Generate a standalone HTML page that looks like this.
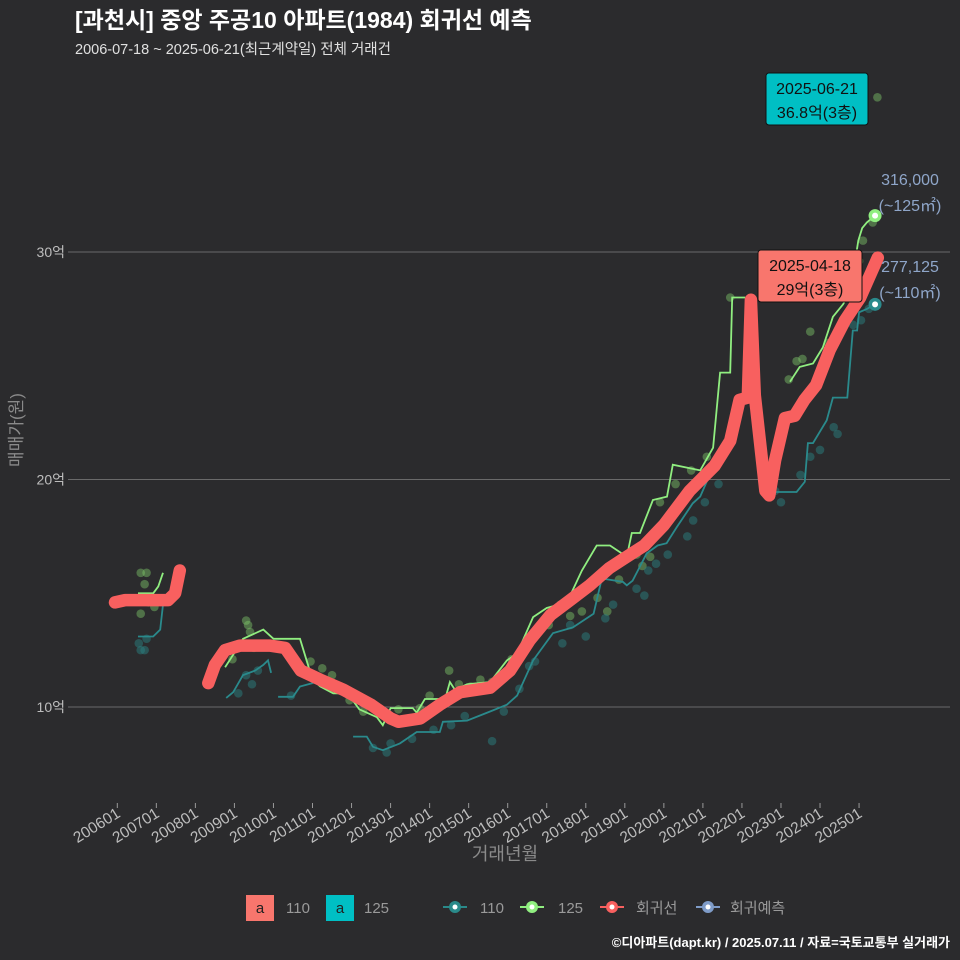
<!DOCTYPE html>
<html><head><meta charset="utf-8">
<style>
html,body{margin:0;padding:0;background:#2b2b2d;}
svg{display:block;font-family:"Liberation Sans","Noto Sans CJK KR",sans-serif;}
</style></head>
<body>
<svg id="chart" width="960" height="960" viewBox="0 0 960 960">
<rect x="0" y="0" width="960" height="960" fill="#2b2b2d"/>
<text x="75" y="28" fill="#ffffff" font-size="23" font-weight="bold">[과천시] 중앙 주공10 아파트(1984) 회귀선 예측</text>
<text x="75" y="54" fill="#e0e0e0" font-size="14.5">2006-07-18 ~ 2025-06-21(최근계약일) 전체 거래건</text>
<g id="grid"></g>
<g id="yaxis"></g>
<g id="xaxis"></g>
<g id="points"></g>
<g id="lines"></g>
<g id="annot"></g>
<text x="22" y="430" fill="#8a8a8a" font-size="17" text-anchor="middle" transform="rotate(-90 22 430)">매매가(원)</text>
<text x="505" y="860" fill="#8a8a8a" font-size="18" text-anchor="middle">거래년월</text>
<g font-size="15" fill="#9a9a9a">
 <g><rect x="246" y="895" width="28" height="26" fill="#f8766d"/><text x="260" y="913" fill="#222" text-anchor="middle">a</text><text x="286" y="913">110</text></g>
 <g><rect x="326" y="895" width="28" height="26" fill="#00bfc4"/><text x="340" y="913" fill="#222" text-anchor="middle">a</text><text x="364" y="913">125</text></g>
 <g><line x1="443" y1="907" x2="467" y2="907" stroke="#2a8a8a" stroke-width="2"/><circle cx="455" cy="907" r="6" fill="#2a8a8a"/><circle cx="455" cy="907" r="2.5" fill="#fff"/><text x="480" y="913">110</text></g>
 <g><line x1="520" y1="907" x2="544" y2="907" stroke="#90ee80" stroke-width="2"/><circle cx="532" cy="907" r="6" fill="#90ee80"/><circle cx="532" cy="907" r="2.5" fill="#fff"/><text x="558" y="913">125</text></g>
 <g><line x1="600" y1="907" x2="624" y2="907" stroke="#f8605f" stroke-width="2"/><circle cx="612" cy="907" r="6" fill="#f8605f"/><circle cx="612" cy="907" r="2.5" fill="#fff"/><text x="636" y="913">회귀선</text></g>
 <g><line x1="696" y1="907" x2="720" y2="907" stroke="#7f9cc8" stroke-width="2"/><circle cx="708" cy="907" r="6" fill="#7f9cc8"/><circle cx="708" cy="907" r="2.5" fill="#fff"/><text x="730" y="913">회귀예측</text></g>
</g>
<text x="950" y="947" fill="#ffffff" font-size="13" font-weight="bold" text-anchor="end">©디아파트(dapt.kr) / 2025.07.11 / 자료=국토교통부 실거래가</text>
</svg>
<script>
const yTicks=[10,20,30];
const yTickLabels=["10억","20억","30억"];
const xTicks=[2006,2007,2008,2009,2010,2011,2012,2013,2014,2015,2016,2017,2018,2019,2020,2021,2022,2023,2024,2025];
const xTickLabels=["200601","200701","200801","200901","201001","201101","201201","201301","201401","201501","201601","201701","201801","201901","202001","202101","202201","202301","202401","202501"];
// regression line segments: time (year) and value (억)
const regT1=[2005.94,2006.2,2007.3,2007.48,2007.6];
const regV1=[14.6,14.7,14.7,15.0,16.0];
const regT2=[2008.33,2008.5,2008.76,2009.14,2009.9,2010.3,2010.7,2011.2,2011.8,2012.5,2013.0,2013.2,2013.76,2014.26,2014.78,2015.55,2016.06,2016.57,2017.1,2017.6,2018.1,2018.6,2019.0,2019.5,2020.0,2020.66,2021.3,2021.7,2021.94,2022.15,2022.23,2022.33,2022.6,2022.7,2022.85,2023.1,2023.35,2023.6,2023.9,2024.25,2024.64,2025.03,2025.48];
const regV2=[11.05,11.85,12.5,12.7,12.7,12.6,11.6,11.2,10.75,10.1,9.5,9.35,9.5,10.1,10.65,10.85,11.6,12.95,14.05,14.7,15.35,16.1,16.55,17.1,18.0,19.5,20.6,21.7,23.5,23.6,27.9,23.7,19.5,19.3,20.85,22.7,22.8,23.5,24.15,25.7,27.0,28.0,29.75];
// 125 line segments
const g125T1=[2006.53,2006.92,2007.05,2007.17];
const g125V1=[15.0,15.0,15.3,15.9];
const g125T2=[2008.76,2008.97,2009.22,2009.74,2010.0,2010.68,2011.0,2011.2,2011.53,2011.9,2012.2,2012.65,2012.8,2013.0,2013.57,2013.67,2013.88,2014.4,2014.52,2014.65,2014.96,2015.55,2015.98,2016.24,2016.65,2017.0,2017.52,2017.9,2018.28,2018.62,2019.05,2019.18,2019.39,2019.72,2020.08,2020.23,2020.93,2021.26,2021.44,2021.7,2021.75,2022.08];
const g125V2=[11.75,12.3,13.0,13.4,13.0,13.0,11.2,10.9,10.6,10.6,9.9,9.55,9.2,9.95,9.95,9.75,10.35,10.35,11.1,10.75,11.0,11.1,12.05,12.35,13.95,14.35,14.6,16.0,17.1,17.1,16.6,17.65,17.65,19.1,19.25,20.65,20.4,21.4,24.7,24.7,28.0,28.0];
const g125T3=[2023.23,2023.48,2023.82,2024.07,2024.33,2024.59,2024.78,2024.98,2025.08,2025.2,2025.41];
const g125V3=[24.3,24.95,25.1,25.8,27.15,27.7,28.3,30.5,31.05,31.3,31.6];
// 110 line segments
const g110T1=[2006.53,2006.92,2007.1,2007.17];
const g110V1=[13.1,13.1,13.4,14.5];
const g110T2=[2008.79,2008.97,2009.22,2009.53,2009.74,2009.86,2009.94];
const g110V2=[10.4,10.65,11.4,11.6,11.85,12.05,11.5];
const g110T3=[2010.12,2010.5,2010.68,2011.0,2011.32];
const g110V3=[10.45,10.45,10.9,11.05,11.3];
const g110T4=[2012.04,2012.39,2012.55,2012.8,2013.24,2013.67,2014.26,2014.34,2014.96,2015.55,2015.98,2016.24,2016.65,2017.16,2017.67,2018.2,2018.41,2018.95,2019.05,2019.2,2019.56,2019.84,2020.07,2020.33,2020.74,2020.93,2021.26,2021.49,2021.7];
const g110V4=[8.7,8.7,8.25,8.1,8.4,8.9,8.9,9.35,9.4,9.8,10.1,10.5,12.05,13.25,13.5,14.1,15.65,15.5,15.35,15.55,16.75,17.1,17.2,17.9,18.95,19.25,20.55,21.4,21.4];
const g110T5=[2022.8,2022.97,2023.4,2023.61,2023.69,2023.82,2024.17,2024.33,2024.7,2024.84,2024.95,2025.0,2025.2,2025.41];
const g110V5=[19.45,19.45,19.45,19.9,21.6,21.6,22.6,23.6,23.6,26.55,26.55,27.35,27.5,27.7];
// scatter transactions
const pts125T=[2006.6,2006.75,2006.7,2006.8,2006.95,2006.6,2008.95,2009.3,2009.35,2009.4,2009.5,2010.95,2011.25,2011.5,2011.55,2011.95,2012.3,2013.2,2013.75,2014.0,2014.5,2014.75,2015.05,2015.3,2015.6,2016.1,2016.5,2017.05,2017.35,2017.6,2017.9,2018.3,2018.55,2018.85,2019.3,2019.45,2019.65,2019.9,2020.3,2020.7,2021.1,2021.7,2023.2,2023.4,2023.55,2023.75,2024.2,2024.9,2025.0,2025.1,2025.35,2025.47];
const pts125V=[15.9,15.9,15.4,14.6,14.4,14.1,12.1,13.8,13.6,13.3,12.6,12.0,11.7,11.4,10.8,10.3,9.8,9.9,9.95,10.5,11.6,11.0,10.9,11.2,11.1,12.1,13.0,13.6,14.5,14.0,14.2,14.8,14.2,15.6,16.7,16.2,16.6,19.0,19.8,20.4,21.0,28.0,24.4,25.2,25.3,26.5,26.0,28.6,29.6,30.5,31.3,36.8];
const pts110T=[2006.6,2006.7,2006.55,2006.75,2009.3,2009.45,2009.6,2009.1,2010.45,2012.55,2012.9,2013.0,2013.55,2014.1,2014.55,2014.9,2015.6,2015.9,2016.3,2016.55,2016.7,2017.4,2017.6,2018.0,2018.5,2018.7,2019.3,2019.5,2019.6,2019.8,2020.1,2020.6,2020.75,2021.05,2021.4,2022.85,2023.0,2023.5,2023.75,2024.0,2024.35,2024.45,2024.85,2025.05,2025.25];
const pts110V=[12.5,12.5,12.8,13.0,11.4,11.0,11.6,10.6,10.5,8.2,8.0,8.4,8.6,9.0,9.2,9.6,8.5,9.8,10.8,11.8,12.0,12.8,13.6,13.1,13.9,14.5,15.2,14.9,16.0,16.3,16.7,17.5,18.2,19.0,19.8,19.5,19.0,20.2,21.0,21.3,22.3,22.0,26.8,27.0,27.5];

const x0=117.3, pxYear=39.04, yZero=934.5, pxUnit=22.75;
function xs(t){return x0+(t-2006)*pxYear;}
function ys(v){return yZero-v*pxUnit;}
const NS="http://www.w3.org/2000/svg";
function mk(tag,attrs,parent){const e=document.createElementNS(NS,tag);for(const k in attrs)e.setAttribute(k,attrs[k]);parent.appendChild(e);return e;}
const grid=document.getElementById('grid'),yax=document.getElementById('yaxis'),xax=document.getElementById('xaxis');
yTicks.forEach((v,i)=>{
 const l=mk('line',{x1:68,x2:950,y1:ys(v),y2:ys(v),stroke:'#6a6a6a','stroke-width':1},grid);
 
 
 const t=mk('text',{x:65,y:ys(v)+5,fill:'#bdbdbd','font-size':14,'text-anchor':'end'},yax);
 t.textContent=yTickLabels[i];
 
 
});
xTicks.forEach((tt,i)=>{
 const x=xs(tt);
 const l=mk('line',{x1:x,x2:x,y1:803,y2:808,stroke:'#9a9a9a','stroke-width':1},xax);
 
 
 const t=mk('text',{x:x+4,y:816,fill:'#bdbdbd','font-size':15.5,'text-anchor':'end',transform:'rotate(-32 '+(x+4)+' 816)'},xax);
 t.textContent=xTickLabels[i];
 
 
});
const pg=document.getElementById('points');
pts125T.forEach((t,i)=>{
 const c=mk('circle',{cx:xs(t),cy:ys(pts125V[i]),r:4.3,fill:'#7fc86a','fill-opacity':0.45},pg);
 
 
});
pts110T.forEach((t,i)=>{
 const c=mk('circle',{cx:xs(t),cy:ys(pts110V[i]),r:4.3,fill:'#2a8080','fill-opacity':0.5},pg);
 
 
});
const lg=document.getElementById('lines');
function path(T,V){return T.map((t,i)=>(i?'L':'M')+xs(t).toFixed(1)+' '+ys(V[i]).toFixed(1)).join(' ');}
[[g110T1,g110V1],[g110T2,g110V2],[g110T3,g110V3],[g110T4,g110V4],[g110T5,g110V5]].forEach(s=>{
 const p=mk('path',{d:path(s[0],s[1]),fill:'none',stroke:'#2a8a8c','stroke-width':1.8},lg);
 
 
});
[[g125T1,g125V1],[g125T2,g125V2],[g125T3,g125V3]].forEach(s=>{
 const p=mk('path',{d:path(s[0],s[1]),fill:'none',stroke:'#90ee80','stroke-width':1.8},lg);
 
 
});
[[regT1,regV1],[regT2,regV2]].forEach(s=>{
 const p=mk('path',{d:path(s[0],s[1]),fill:'none',stroke:'#f8605f','stroke-width':12.5,'stroke-linecap':'round','stroke-linejoin':'round'},lg);
 
 
});
const e1=mk('circle',{cx:xs(g125T3[g125T3.length-1]),cy:ys(g125V3[g125V3.length-1]),r:6.5,fill:'#90ee80'},lg);


const e1b=mk('circle',{cx:xs(g125T3[g125T3.length-1]),cy:ys(g125V3[g125V3.length-1]),r:3,fill:'#fff'},lg);


const e2=mk('circle',{cx:xs(g110T5[g110T5.length-1]),cy:ys(g110V5[g110V5.length-1]),r:6.5,fill:'#2a8a8c'},lg);


const e2b=mk('circle',{cx:xs(g110T5[g110T5.length-1]),cy:ys(g110V5[g110V5.length-1]),r:3,fill:'#fff'},lg);


</script>
<script>
const an=document.getElementById('annot');
an.innerHTML=`
<g>
<rect x="766" y="73" width="102" height="52" rx="3" fill="#00bfc4" stroke="#111" stroke-width="1"/>
<text x="817" y="94" font-size="16" fill="#111" text-anchor="middle">2025-06-21</text>
<text x="817" y="118" font-size="16" fill="#111" text-anchor="middle">36.8억(3층)</text></g>
<g>
<rect x="758" y="250" width="104" height="52" rx="3" fill="#f8766d" stroke="#111" stroke-width="1"/>
<text x="810" y="271" font-size="16" fill="#111" text-anchor="middle">2025-04-18</text>
<text x="810" y="295" font-size="16" fill="#111" text-anchor="middle">29억(3층)</text></g>
<g fill="#8fa6c9" font-size="16" text-anchor="middle">
<text x="910" y="185">316,000</text><text x="910" y="211">(~125㎡)</text></g>
<g fill="#8fa6c9" font-size="16" text-anchor="middle">
<text x="910" y="272">277,125</text><text x="910" y="298">(~110㎡)</text></g>`;
</script>
</body></html>
